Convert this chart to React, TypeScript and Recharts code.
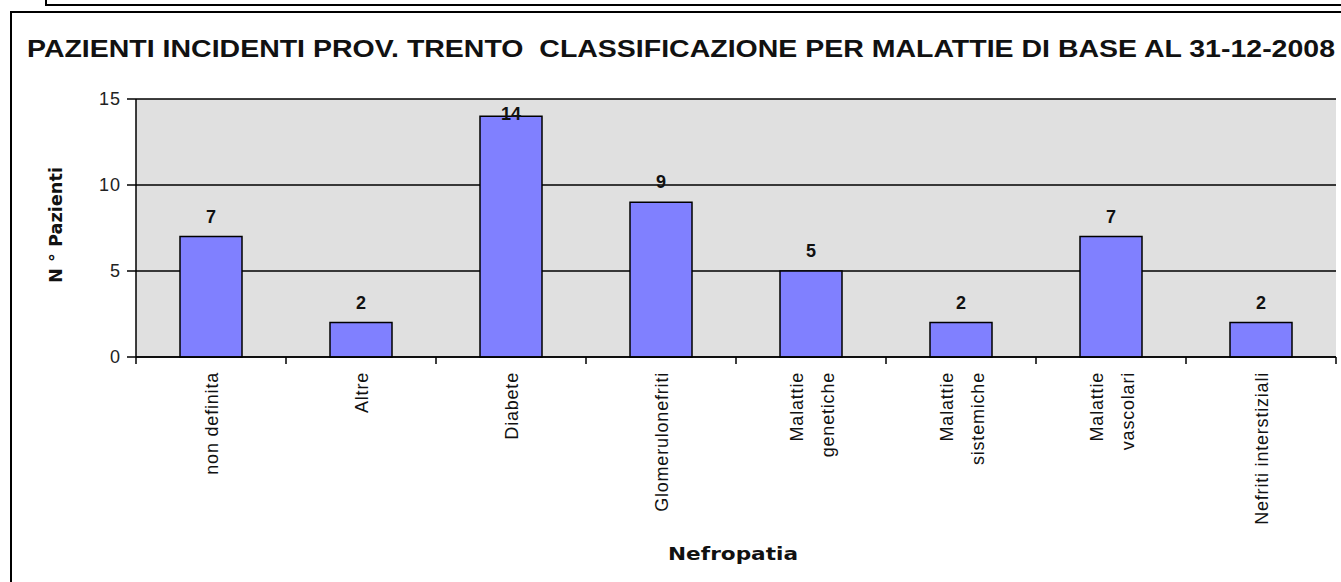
import { BarChart, Bar, XAxis, YAxis, CartesianGrid, LabelList } from 'recharts'

const CATEGORIES = [
  'non definita',
  'Altre',
  'Diabete',
  'Glomerulonefriti',
  'Malattie\ngenetiche',
  'Malattie\nsistemiche',
  'Malattie\nvascolari',
  'Nefriti interstiziali',
]
const PATIENTS = [7, 2, 14, 9, 5, 2, 7, 2]
const Y_TICKS = [0, 5, 10, 15]

const TITLE = 'PAZIENTI INCIDENTI PROV. TRENTO  CLASSIFICAZIONE PER MALATTIE DI BASE AL 31-12-2008'
const X_TITLE = 'Nefropatia'
const Y_TITLE = 'N ° Pazienti'

const W = 1341
const H = 582
const PLOT_TOP = 99
const FONT = '"Liberation Sans", Arial, sans-serif'
const BOLD_FONT = '"DejaVu Sans", Verdana, sans-serif'

const data = CATEGORIES.map((name, i) => ({ name, value: PATIENTS[i] }))

function CategoryTick(props: any) {
  const { x, y, payload, index } = props
  const half = payload?.offset || 75
  const lines = String(payload.value).split('\n')
  const gap = 31
  const first = -((lines.length - 1) * gap) / 2 + 7
  return (
    <g>
      <line x1={x - half} x2={x - half} y1={y - 15} y2={y - 8} stroke="#000" strokeWidth={1.5} />
      {index === CATEGORIES.length - 1 && (
        <line x1={x + half} x2={x + half} y1={y - 15} y2={y - 8} stroke="#000" strokeWidth={1.5} />
      )}
      <text
        transform={`translate(${x},${y}) rotate(-90)`}
        textAnchor="end"
        fontSize={18}
        fontFamily={FONT}
        letterSpacing={0.8}
        fill="#111"
      >
        {lines.map((l, i) => (
          <tspan key={i} x={0} dy={i === 0 ? first : gap}>
            {l}
          </tspan>
        ))}
      </text>
    </g>
  )
}

function ValueLabel(props: any) {
  const { x, y, width, value } = props
  // Excel keeps labels inside the plot, so the tallest one slides down onto its bar
  const base = Math.max(y - 14, PLOT_TOP + 21)
  return (
    <text x={x + width / 2} y={base} textAnchor="middle" fontSize={18} fontWeight="bold" fontFamily={FONT} fill="#111">
      {value}
    </text>
  )
}

export default function App() {
  return (
    <div style={{ position: 'absolute', left: 0, top: 0, width: W, height: H, background: '#fff' }}>
      <BarChart width={W} height={H} data={data} margin={{ top: PLOT_TOP, right: 5, bottom: 0, left: 76 }}>
        <CartesianGrid vertical={false} stroke="#000" strokeWidth={1.5} fill="#e0e0e0" fillOpacity={1} />
        <XAxis
          dataKey="name"
          height={225}
          interval={0}
          tickLine={false}
          tickSize={7}
          tickMargin={8}
          axisLine={{ stroke: '#000', strokeWidth: 1.5 }}
          tick={<CategoryTick />}
        />
        <YAxis
          domain={[0, 15]}
          ticks={Y_TICKS}
          width={60}
          tickSize={9}
          tickMargin={6}
          axisLine={{ stroke: '#000', strokeWidth: 1.5 }}
          tickLine={{ stroke: '#000', strokeWidth: 1.5 }}
          tick={{ fill: '#222', fontSize: 18, fontFamily: FONT, letterSpacing: 1 }}
        />
        <YAxis
          yAxisId="right"
          orientation="right"
          domain={[0, 15]}
          width={0}
          tick={false}
          tickLine={false}
          axisLine={{ stroke: '#000', strokeWidth: 1.5 }}
        />
        <Bar dataKey="value" fill="#8080ff" stroke="#000" strokeWidth={1.5} barSize={62} isAnimationActive={false}>
          <LabelList dataKey="value" content={<ValueLabel />} />
        </Bar>
      </BarChart>
      <svg width={W} height={H} style={{ position: 'absolute', left: 0, top: 0, pointerEvents: 'none' }}>
        <polyline points={`46,0 46,5 ${W},5`} fill="none" stroke="#000" strokeWidth={2} />
        <polyline points={`11,${H} 11,12 ${W},12`} fill="none" stroke="#000" strokeWidth={2} />
        <text
          x={27}
          y={57}
          fontSize={23}
          fontWeight="bold"
          fontFamily={FONT}
          textLength={1308}
          lengthAdjust="spacingAndGlyphs"
          style={{ whiteSpace: 'pre' }}
          fill="#111"
        >
          {TITLE}
        </text>
        <text
          x={668}
          y={560}
          fontSize={17}
          fontWeight="bold"
          fontFamily={BOLD_FONT}
          textLength={130}
          lengthAdjust="spacingAndGlyphs"
          fill="#111"
        >
          {X_TITLE}
        </text>
        <text
          transform="translate(62,283) rotate(-90)"
          fontSize={17}
          fontWeight="bold"
          fontFamily={BOLD_FONT}
          textLength={116}
          lengthAdjust="spacingAndGlyphs"
          style={{ whiteSpace: 'pre' }}
          fill="#111"
        >
          {Y_TITLE}
        </text>
      </svg>
    </div>
  )
}
